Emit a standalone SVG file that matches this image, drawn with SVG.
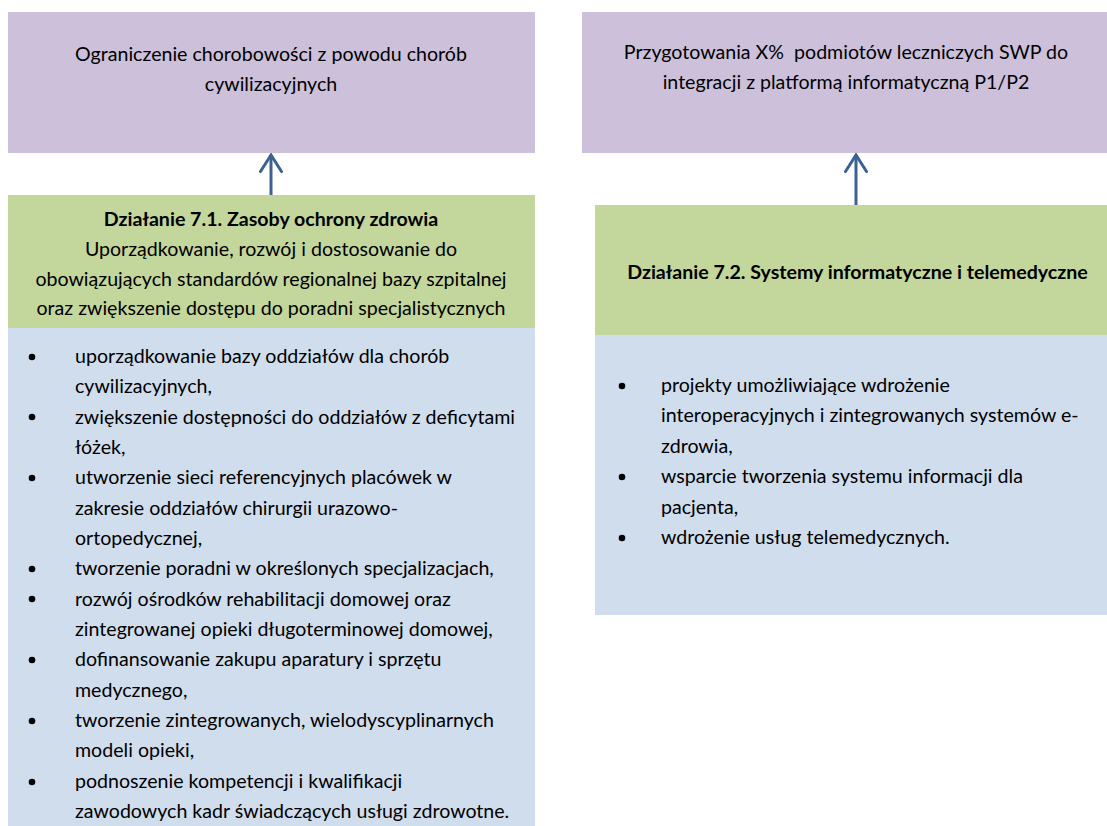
<svg xmlns="http://www.w3.org/2000/svg" width="1107" height="826" viewBox="0 0 1107 826">
  <defs>
    <style>
      .t { font-family: Lato, "Liberation Sans", sans-serif; font-size: 19.6px; fill: #000; }
      .c { text-anchor: middle; }
      .b { font-weight: bold; }
      .pre { white-space: pre; }
      .goal { fill: #CCC0DA; }
      .action { fill: #C3D69B; }
      .list { fill: #D0DDEC; }
      .link { stroke: #3D6191; stroke-width: 3; fill: none; }
    </style>
    <marker id="head" viewBox="0 0 20 24" refX="18" refY="12" markerWidth="20" markerHeight="24" markerUnits="userSpaceOnUse" orient="auto">
      <path d="M1.5,1.5 L18,12 L1.5,22.5" fill="none" stroke="#3D6191" stroke-width="3" stroke-linecap="round"/>
    </marker>
  </defs>
  <rect width="1107" height="826" fill="#fff"/>

  <!-- left column -->
  <g id="goal-1">
    <rect class="goal" x="8" y="12" width="527" height="141"/>
    <text class="t c" x="271" y="61">Ograniczenie chorobowości z powodu chorób</text>
    <text class="t c" x="271" y="91">cywilizacyjnych</text>
  </g>
  <g id="action-7-1">
    <rect class="action" x="8" y="195" width="527" height="133"/>
    <text class="t c b" x="271" y="226">Działanie 7.1. Zasoby ochrony zdrowia</text>
    <text class="t c" x="271" y="255.5">Uporządkowanie, rozwój i dostosowanie do</text>
    <text class="t c" x="271" y="285.5">obowiązujących standardów regionalnej bazy szpitalnej</text>
    <text class="t c" x="271" y="315">oraz zwiększenie dostępu do poradni specjalistycznych</text>
  </g>
  <g id="list-7-1">
    <rect class="list" x="8" y="328" width="527" height="498"/>
    <g fill="#000">
      <circle cx="32" cy="357" r="3.3"/>
      <circle cx="32" cy="417" r="3.3"/>
      <circle cx="32" cy="478" r="3.3"/>
      <circle cx="32" cy="569" r="3.3"/>
      <circle cx="32" cy="599" r="3.3"/>
      <circle cx="32" cy="660" r="3.3"/>
      <circle cx="32" cy="721" r="3.3"/>
      <circle cx="32" cy="782" r="3.3"/>
    </g>
    <text class="t" x="75" y="363">uporządkowanie bazy oddziałów dla chorób</text>
    <text class="t" x="75" y="393">cywilizacyjnych,</text>
    <text class="t" x="75" y="424">zwiększenie dostępności do oddziałów z deficytami</text>
    <text class="t" x="75" y="454">łóżek,</text>
    <text class="t" x="75" y="484">utworzenie sieci referencyjnych placówek w</text>
    <text class="t" x="75" y="515">zakresie oddziałów chirurgii urazowo-</text>
    <text class="t" x="75" y="545">ortopedycznej,</text>
    <text class="t" x="75" y="575">tworzenie poradni w określonych specjalizacjach,</text>
    <text class="t" x="75" y="606">rozwój ośrodków rehabilitacji domowej oraz</text>
    <text class="t" x="75" y="636">zintegrowanej opieki długoterminowej domowej,</text>
    <text class="t" x="75" y="666">dofinansowanie zakupu aparatury i sprzętu</text>
    <text class="t" x="75" y="697">medycznego,</text>
    <text class="t" x="75" y="727">tworzenie zintegrowanych, wielodyscyplinarnych</text>
    <text class="t" x="75" y="757">modeli opieki,</text>
    <text class="t" x="75" y="788">podnoszenie kompetencji i kwalifikacji</text>
    <text class="t" x="75" y="818">zawodowych kadr świadczących usługi zdrowotne.</text>
  </g>

  <!-- right column -->
  <g id="goal-2">
    <rect class="goal" x="582" y="12" width="525" height="141"/>
    <text class="t c pre" x="846" y="59">Przygotowania X%  podmiotów leczniczych SWP do</text>
    <text class="t c" x="846" y="89">integracji z platformą informatyczną P1/P2</text>
  </g>
  <g id="action-7-2">
    <rect class="action" x="595" y="205" width="512" height="130"/>
    <text class="t c b" x="857.5" y="279">Działanie 7.2. Systemy informatyczne i telemedyczne</text>
  </g>
  <g id="list-7-2">
    <rect class="list" x="595" y="335" width="512" height="280"/>
    <g fill="#000">
      <circle cx="622" cy="386" r="3.3"/>
      <circle cx="622" cy="477" r="3.3"/>
      <circle cx="622" cy="538" r="3.3"/>
    </g>
    <text class="t" x="661" y="392">projekty umożliwiające wdrożenie</text>
    <text class="t" x="661" y="422">interoperacyjnych i zintegrowanych systemów e-</text>
    <text class="t" x="661" y="453">zdrowia,</text>
    <text class="t" x="661" y="483">wsparcie tworzenia systemu informacji dla</text>
    <text class="t" x="661" y="514">pacjenta,</text>
    <text class="t" x="661" y="544">wdrożenie usług telemedycznych.</text>
  </g>

  <!-- connectors -->
  <g id="connectors">
    <line class="link" x1="271" y1="195" x2="271" y2="155" marker-end="url(#head)"/>
    <line class="link" x1="856" y1="205" x2="856" y2="155" marker-end="url(#head)"/>
  </g>
</svg>
